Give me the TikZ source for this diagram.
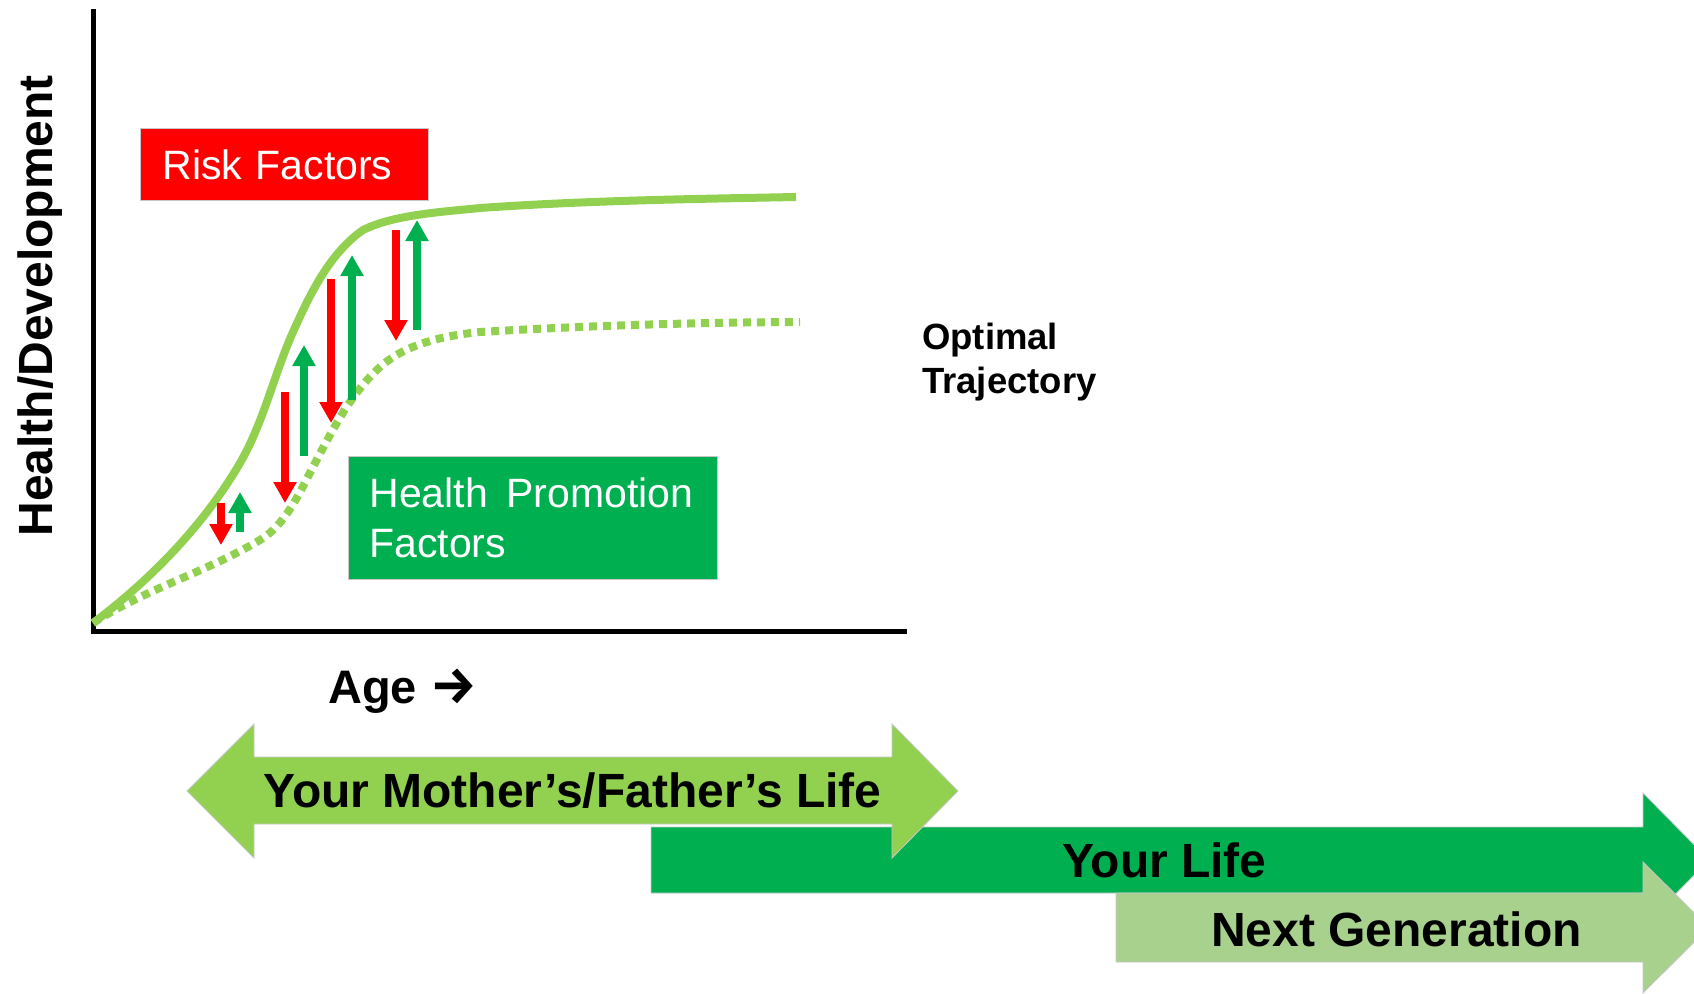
\documentclass[tikz,border=0pt]{standalone}
\usepackage{fontspec}
\setmainfont{Liberation Sans}
\newfontfamily\arrowfont{Fira Sans}
\usetikzlibrary{arrows.meta}
\definecolor{lgreen}{HTML}{92D050}
\definecolor{dgreen}{HTML}{00B050}
\definecolor{pgreen}{HTML}{A9D18E}
\definecolor{rred}{HTML}{FF0000}
\begin{document}
\begin{tikzpicture}[x=1pt,y=-1pt,
  axis/.style={line width=5pt, black, line join=miter},
  trajsolid/.style={line width=8pt, lgreen},
  trajdot/.style={line width=8pt, lgreen, dash pattern=on 8pt off 6pt},
  riskarrow/.style={line width=8pt, rred, -{Triangle[width=22pt,length=21pt]}},
  promoarrow/.style={line width=8pt, dgreen, -{Triangle[width=22pt,length=21pt]}},
  lifebar/.style={draw=black!22, line width=0.8pt},
  bigtext/.style={font=\fontsize{48}{56}\selectfont\bfseries, inner sep=0pt},
  factorbox/.style={anchor=north west, draw=black!22, line width=0.8pt, text=white,
    font=\fontsize{41}{50}\selectfont, align=left, inner ysep=0pt, text height=29.4pt},
]
\useasboundingbox (0,0) rectangle (1694,993);
\clip (0,0) rectangle (1694,993);

% axes
\draw[axis] (93,9) -- (93,631) -- (907,631);
\node[rotate=90, anchor=base, inner sep=0pt, font=\fontsize{48}{56}\selectfont\bfseries] (ylab) at (52,305.75) {Health/Development};
\node[anchor=base west, inner sep=0pt, font=\fontsize{47}{56}\selectfont\bfseries] (age) at (328,703) {Age {\arrowfont\fontsize{52}{56}\selectfont\bfseries →}};

% trajectories
\draw[trajsolid] (93,623) .. controls (150.6,579.8) and (203.8,525.2) .. (240,463)
  .. controls (263.6,422.4) and (273.8,374.9) .. (293,332)
  .. controls (309.7,294.6) and (329.4,253.5) .. (363,230)
  .. controls (393,215) and (440.2,212) .. (480,208)
  .. controls (585,200.6) and (691,199) .. (796,197);
\draw[trajdot] (93,623) .. controls (145,589.2) and (206.8,571.9) .. (260,540)
  .. controls (285.7,524.6) and (299,493.5) .. (313,467)
  .. controls (331.6,431.6) and (350.3,393.8) .. (380,367)
  .. controls (406,343.6) and (445,335.5) .. (480,332)
  .. controls (587,325.6) and (693,322.5) .. (800,322);

% risk / promotion arrows
\coordinate (r1s) at (221,503); \coordinate (r1e) at (221,545);
\coordinate (g1s) at (240,532); \coordinate (g1e) at (240,492);
\coordinate (r2s) at (285,392); \coordinate (r2e) at (285,503);
\coordinate (g2s) at (304,456); \coordinate (g2e) at (304,345);
\coordinate (r3s) at (331,279); \coordinate (r3e) at (331,423);
\coordinate (g3s) at (352,400); \coordinate (g3e) at (352,255);
\coordinate (r4s) at (396,230); \coordinate (r4e) at (396,341);
\coordinate (g4s) at (417,330); \coordinate (g4e) at (417,220);
\draw[riskarrow] (r1s) -- (r1e);
\draw[promoarrow] (g1s) -- (g1e);
\draw[riskarrow] (r2s) -- (r2e);
\draw[promoarrow] (g2s) -- (g2e);
\draw[riskarrow] (r3s) -- (r3e);
\draw[promoarrow] (g3s) -- (g3e);
\draw[riskarrow] (r4s) -- (r4e);
\draw[promoarrow] (g4s) -- (g4e);

% boxes
\node[factorbox, fill=rred, minimum width=288pt, minimum height=72pt, text width=244pt, inner xsep=22pt, text depth=0pt] (risk) at (140,128) {Risk Factors};
\node[factorbox, fill=dgreen, minimum width=369pt, minimum height=123pt, text width=327pt, inner xsep=21pt, text depth=50pt] (promo) at (348,456) {Health\hspace{0.45em}Promotion\\Factors};

\node[anchor=base west, inner sep=0pt, text width=220pt, align=left, font=\fontsize{36.5}{44}\selectfont\bfseries] (opt) at (922,349) {Optimal\\Trajectory};

% life arrows
\path[fill=dgreen, lifebar] (651,827) -- (1643,827) -- (1643,793) -- (1709,860) -- (1643,927) -- (1643,893) -- (651,893) -- cycle;
\path[fill=pgreen, lifebar] (1116,893) -- (1643,893) -- (1643,862) -- (1709,927.5) -- (1643,993) -- (1643,962) -- (1116,962) -- cycle;
\path[fill=lgreen, lifebar] (187,791) -- (254,724) -- (254,757) -- (892,757) -- (892,724) -- (958,791) -- (892,858) -- (892,824) -- (254,824) -- (254,858) -- cycle;

\node[bigtext, anchor=base] (parent) at (572.5,807) {Your Mother’s/Father’s Life};
\node[bigtext, anchor=base west] (yourlife) at (1062,877) {Your Life};
\node[bigtext, anchor=base west] (nextgen) at (1211,946) {Next Generation};
\end{tikzpicture}
\end{document}
